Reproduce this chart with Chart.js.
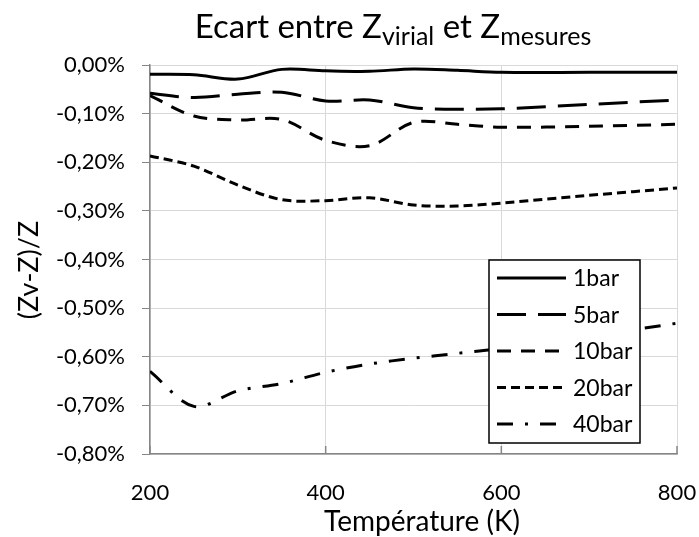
<!DOCTYPE html>
<html>
<head>
<meta charset="utf-8">
<script src="https://cdn.jsdelivr.net/npm/chart.js@4"></script>
<style>
  html, body { margin: 0; padding: 0; background: #fff; }
  #wrap { width: 699px; height: 537px; position: relative; }
</style>
</head>
<body>
<div id="wrap"><canvas id="graph"></canvas></div>
<script>
// températures (K)
const temperatures = [200, 250, 300, 350, 400, 450, 500, 550, 600, 700, 800];

// écart (Zv-Z)/Z en %
const bar1  = [-0.019, -0.020, -0.029, -0.009, -0.012, -0.013, -0.008, -0.011, -0.015, -0.015, -0.015];
const bar5  = [-0.058, -0.067, -0.060, -0.056, -0.074, -0.072, -0.088, -0.091, -0.090, -0.081, -0.072];
const bar10 = [-0.063, -0.105, -0.113, -0.112, -0.155, -0.166, -0.118, -0.122, -0.128, -0.126, -0.122];
const bar20 = [-0.187, -0.208, -0.247, -0.277, -0.279, -0.273, -0.288, -0.290, -0.284, -0.268, -0.253];
const bar40 = [-0.630, -0.702, -0.670, -0.655, -0.632, -0.615, -0.603, -0.593, -0.583, -0.558, -0.531];

const labels = ["1bar", "5bar", "10bar", "20bar", "40bar"];
const series = [bar1, bar5, bar10, bar20, bar40];
const dashes = [[], [29, 12], [14, 10], [9, 5], [16, 12, 3, 12]];

const FONT = "Lato, 'Open Sans', sans-serif";

function pts(values) {
    return values.map(function (v, i) { return { x: temperatures[i], y: v }; });
}

// titre avec indices, titres d'axes et légende dans le cadre
const decor = {
    id: 'decor',
    afterDraw: function (chart) {
        const ctx = chart.ctx;
        const area = chart.chartArea;
        const xs = chart.scales.x;
        ctx.save();

        // petites graduations vers l'intérieur sur l'axe x
        ctx.strokeStyle = '#868686';
        ctx.lineWidth = 1.5;
        xs.ticks.forEach(function (t) {
            const px = xs.getPixelForValue(t.value);
            ctx.beginPath();
            ctx.moveTo(px, area.bottom - 8);
            ctx.lineTo(px, area.bottom);
            ctx.stroke();
        });

        ctx.fillStyle = '#000';
        ctx.textBaseline = 'alphabetic';

        // titre
        const parts = [
            ["Ecart entre Z", false], ["virial", true],
            [" et Z", false], ["mesures", true]
        ];
        let total = 0;
        parts.forEach(function (p) {
            ctx.font = (p[1] ? '25px ' : '33px ') + FONT;
            total += ctx.measureText(p[0]).width;
        });
        let x = 393 - total / 2;
        parts.forEach(function (p) {
            ctx.font = (p[1] ? '25px ' : '33px ') + FONT;
            ctx.textAlign = 'left';
            ctx.fillText(p[0], x, p[1] ? 45 : 38);
            x += ctx.measureText(p[0]).width;
        });

        // titre axe x
        ctx.font = '28px ' + FONT;
        ctx.textAlign = 'center';
        ctx.fillText("Température (K)", 422, 531);

        // titre axe y
        ctx.save();
        ctx.translate(38, 270);
        ctx.rotate(-Math.PI / 2);
        ctx.font = '27px ' + FONT;
        ctx.fillText("(Zv-Z)/Z", 0, 0);
        ctx.restore();

        // légende
        const lx = 489, ly = 260, lw = 151, lh = 183;
        ctx.fillStyle = '#fff';
        ctx.fillRect(lx, ly, lw, lh);
        ctx.strokeStyle = '#000';
        ctx.lineWidth = 1.5;
        ctx.strokeRect(lx, ly, lw, lh);
        ctx.font = '23px ' + FONT;
        ctx.textAlign = 'left';
        ctx.textBaseline = 'middle';
        chart.data.datasets.forEach(function (ds, i) {
            const y = 278 + i * 36.5;
            ctx.beginPath();
            ctx.setLineDash(ds.borderDash);
            ctx.lineWidth = ds.borderWidth;
            ctx.strokeStyle = ds.borderColor;
            ctx.moveTo(497, y);
            ctx.lineTo(566, y);
            ctx.stroke();
            ctx.setLineDash([]);
            ctx.fillStyle = '#000';
            ctx.fillText(ds.label, 573, y + 1);
        });
        ctx.restore();
    }
};

window.onload = function () {
    const datasets = series.map(function (s, i) {
        return {
            label: labels[i],
            data: pts(s),
            borderColor: '#000',
            borderWidth: 3,
            borderDash: dashes[i],
            borderCapStyle: 'butt',
            pointRadius: 0,
            tension: 0.33,
            fill: false
        };
    });

    new Chart(document.getElementById('graph'), {
        type: 'line',
        data: { datasets: datasets },
        plugins: [decor],
        options: {
            responsive: true,
            maintainAspectRatio: false,
            animation: false,
            layout: {
                padding: { top: 65, right: 22, left: 0, bottom: 0 }
            },
            scales: {
                x: {
                    type: 'linear',
                    min: 200,
                    max: 800,
                    afterFit: function (axis) { axis.height = 83; },
                    ticks: {
                        stepSize: 200,
                        padding: 1,
                        color: '#000',
                        font: { family: FONT, size: 22 }
                    },
                    grid: { color: '#d9d9d9', tickColor: 'rgba(0,0,0,0)', tickLength: 25 },
                    border: { color: '#868686', width: 1.5 }
                },
                y: {
                    min: -0.8,
                    max: 0,
                    afterFit: function (axis) { axis.width = 150; },
                    ticks: {
                        stepSize: 0.1,
                        padding: 17,
                        color: '#000',
                        font: { family: FONT, size: 22 },
                        callback: function (v) {
                            let s = Math.abs(v) < 1e-9 ? '0,00' : v.toFixed(2).replace('.', ',');
                            return s + '%';
                        }
                    },
                    grid: { color: '#d9d9d9', tickColor: '#868686', tickLength: 8 },
                    border: { color: '#868686', width: 1.5 }
                }
            },
            plugins: {
                legend: { display: false },
                title: { display: false },
                tooltip: { enabled: false }
            }
        }
    });
};
</script>
</body>
</html>
